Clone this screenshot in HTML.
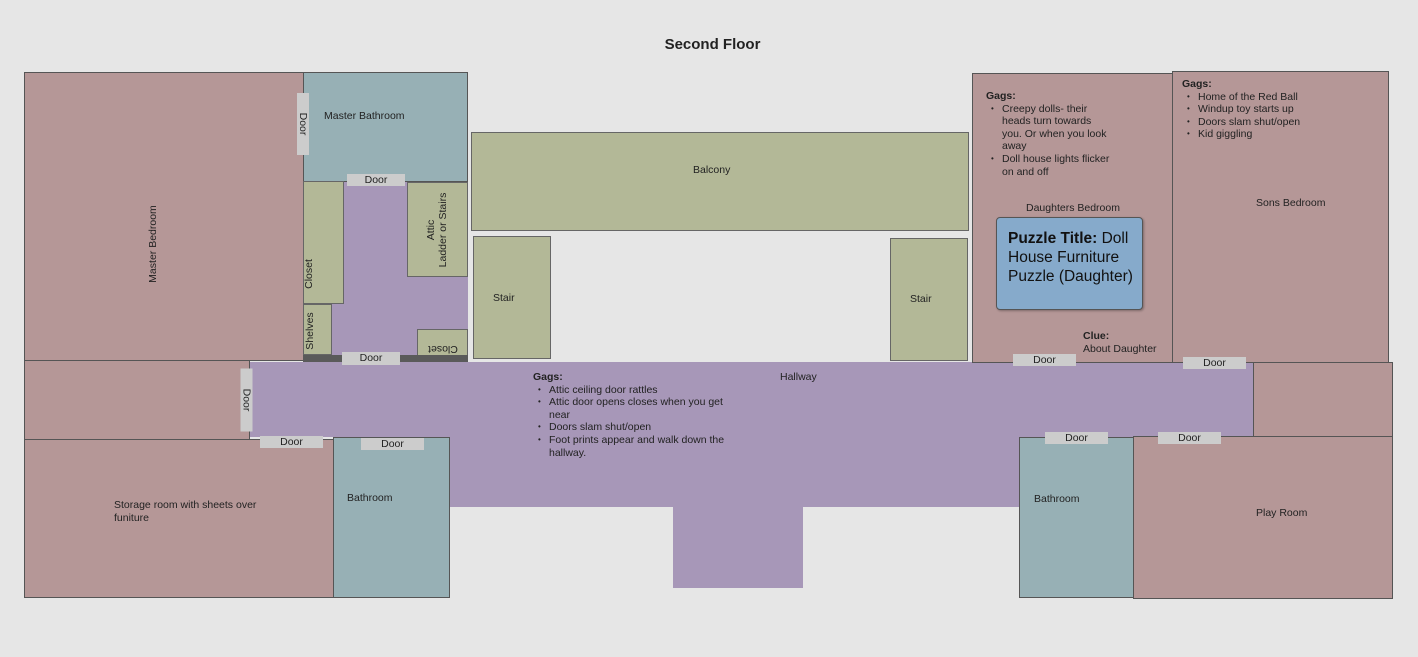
<!DOCTYPE html>
<html><head><style>
body{margin:0;width:1418px;height:657px;background:#e6e6e6;font-family:"Liberation Sans",sans-serif;font-size:10.5px;color:#222;position:relative;overflow:hidden}
div{position:absolute;box-sizing:border-box}
.r{background:#b59797;border:1px solid #555}
.b{background:#97b0b5;border:1px solid #555}
.g{background:#b3b897;border:1px solid #666}
.p{background:#a797b8}
.d{background:#cccccc;text-align:center;line-height:12px;font-size:10.5px}
.t{white-space:nowrap}
.rot{transform-origin:center;text-align:center;line-height:12px}
ul{margin:0;padding-left:16px}
li{list-style:none;position:relative}
li:before{content:"•";position:absolute;left:-11px;font-size:8px}
</style></head><body>
<div class="t" style="left:0;width:1425px;top:36px;text-align:center;font-weight:bold;font-size:15px">Second Floor</div>

<div class="p" style="left:249px;top:362px;width:1004px;height:75px"></div>
<div class="p" style="left:450px;top:437px;width:569px;height:70px"></div>
<div class="p" style="left:673px;top:505px;width:130px;height:83px"></div>
<div class="p" style="left:303px;top:181px;width:165px;height:180px"></div>

<div class="r" style="left:24px;top:72px;width:280px;height:289px"></div>
<div class="t rot" style="left:93px;top:238px;width:120px;transform:rotate(-90deg)">Master Bedroom</div>
<div class="b" style="left:303px;top:72px;width:165px;height:110px"></div>
<div class="t" style="left:324px;top:110px">Master Bathroom</div>
<div class="d rot" style="left:272px;top:118px;width:62px;height:12px;transform:rotate(90deg)">Door</div>
<div class="d" style="left:347px;top:174px;width:58px;height:12px">Door</div>
<div class="g" style="left:303px;top:181px;width:41px;height:123px"></div>
<div class="t rot" style="left:284px;top:268px;width:50px;transform:rotate(-90deg)">Closet</div>
<div class="g" style="left:303px;top:304px;width:29px;height:51px"></div>
<div class="t rot" style="left:287px;top:325px;width:46px;transform:rotate(-90deg)">Shelves</div>
<div class="g" style="left:407px;top:182px;width:61px;height:95px"></div>
<div class="t rot" style="left:387px;top:218px;width:100px;height:24px;transform:rotate(-90deg)">Attic<br>Ladder or Stairs</div>
<div class="g" style="left:417px;top:329px;width:51px;height:28px"></div>
<div class="t rot" style="left:420px;top:343px;width:46px;transform:rotate(180deg)">Closet</div>
<div style="left:303px;top:355px;width:165px;height:7px;background:#5a5a5a"></div>
<div class="d" style="left:342px;top:352px;width:58px;height:13px">Door</div>

<div class="g" style="left:471px;top:132px;width:498px;height:99px"></div>
<div class="t" style="left:693px;top:164px">Balcony</div>
<div class="g" style="left:473px;top:236px;width:78px;height:123px"></div>
<div class="t" style="left:493px;top:292px">Stair</div>
<div class="g" style="left:890px;top:238px;width:78px;height:123px"></div>
<div class="t" style="left:910px;top:293px">Stair</div>

<div class="r" style="left:24px;top:360px;width:226px;height:80px"></div>
<div class="d rot" style="left:215px;top:394px;width:63px;height:12px;transform:rotate(90deg)">Door</div>
<div class="r" style="left:24px;top:439px;width:310px;height:159px"></div>
<div class="t" style="left:114px;top:499px;line-height:13px">Storage room with sheets over<br>funiture</div>
<div class="d" style="left:260px;top:436px;width:63px;height:12px">Door</div>
<div class="b" style="left:333px;top:437px;width:117px;height:161px"></div>
<div class="d" style="left:361px;top:438px;width:63px;height:12px">Door</div>
<div class="t" style="left:347px;top:492px">Bathroom</div>

<div class="t" style="left:780px;top:371px">Hallway</div>
<div style="left:533px;top:371px;line-height:12.6px;width:210px"><b>Gags:</b><ul><li>Attic ceiling door rattles</li><li>Attic door opens closes when you get near</li><li>Doors slam shut/open</li><li>Foot prints appear and walk down the hallway.</li></ul></div>

<div class="r" style="left:972px;top:73px;width:201px;height:290px"></div>
<div style="left:986px;top:90px;line-height:12.6px;width:124px"><b>Gags:</b><ul><li>Creepy dolls- their heads turn towards you. Or when you look away</li><li>Doll house lights flicker on and off</li></ul></div>
<div class="t" style="left:1026px;top:202px">Daughters Bedroom</div>
<div style="left:996px;top:217px;width:147px;height:93px;background:#86aacb;border:1.5px solid #555;border-radius:4px;box-shadow:1px 1px 2px rgba(0,0,0,.3);padding:11px 0 0 11px;font-size:15.5px;line-height:19px;color:#111"><b>Puzzle Title:</b> Doll House Furniture Puzzle (Daughter)</div>
<div class="t" style="left:1083px;top:330px;line-height:12.6px"><b>Clue:</b><br>About Daughter</div>
<div class="r" style="left:1172px;top:71px;width:217px;height:292px"></div>
<div style="left:1182px;top:78px;line-height:12.6px;width:200px"><b>Gags:</b><ul><li>Home of the Red Ball</li><li>Windup toy starts up</li><li>Doors slam shut/open</li><li>Kid giggling</li></ul></div>
<div class="t" style="left:1256px;top:197px">Sons Bedroom</div>
<div class="d" style="left:1013px;top:354px;width:63px;height:12px">Door</div>
<div class="d" style="left:1183px;top:357px;width:63px;height:12px">Door</div>
<div class="r" style="left:1253px;top:362px;width:140px;height:75px"></div>
<div class="b" style="left:1019px;top:437px;width:115px;height:161px"></div>
<div class="t" style="left:1034px;top:493px">Bathroom</div>
<div class="r" style="left:1133px;top:436px;width:260px;height:163px"></div>
<div class="t" style="left:1256px;top:507px">Play Room</div>
<div class="d" style="left:1045px;top:432px;width:63px;height:12px">Door</div>
<div class="d" style="left:1158px;top:432px;width:63px;height:12px">Door</div>
</body></html>
